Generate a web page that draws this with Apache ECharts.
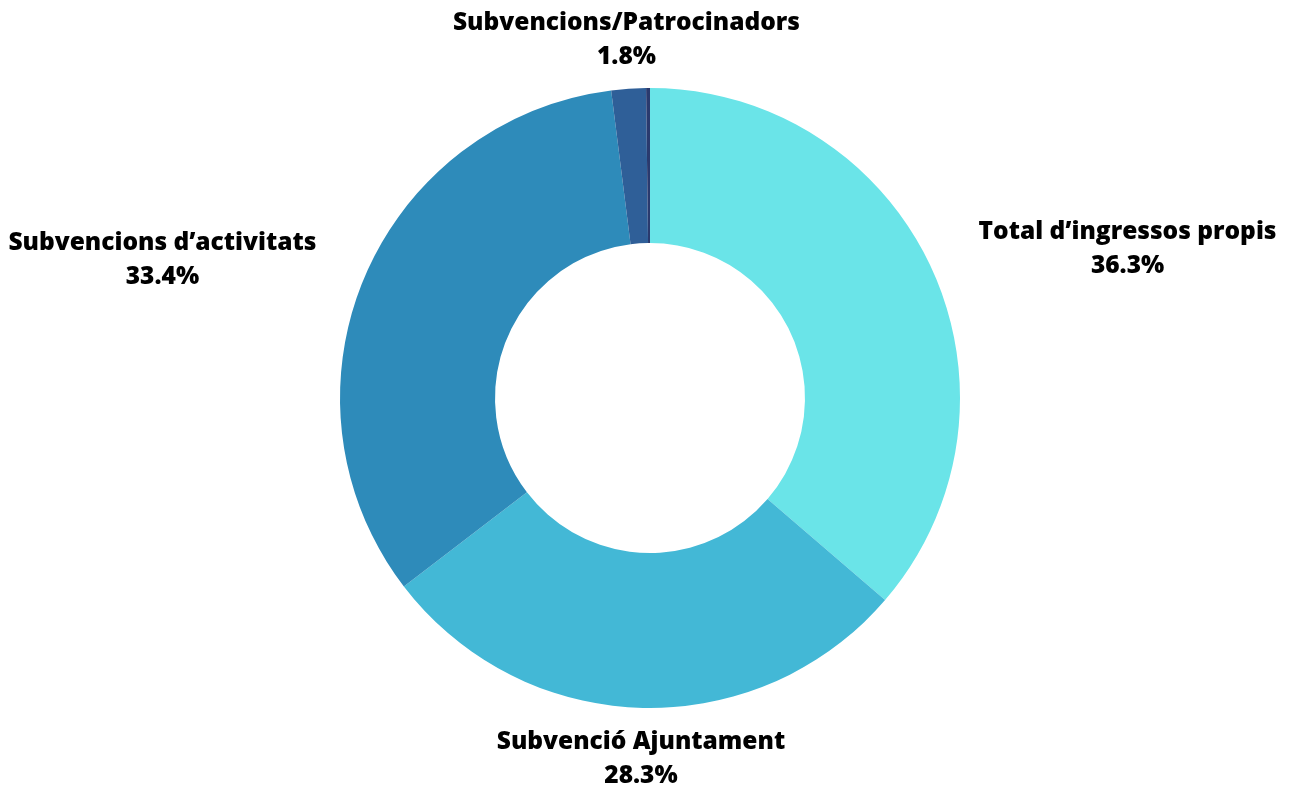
<!DOCTYPE html>
<html>
<head>
<meta charset="utf-8">
<script src="https://cdn.jsdelivr.net/npm/echarts@6/dist/echarts.min.js"></script>
<style>
html,body{margin:0;padding:0;background:#fff;}
#chart{width:1291px;height:792px;}
</style>
</head>
<body>
<div id="chart"></div>
<script>
const categories = ['Total d’ingressos propis', 'Subvenció Ajuntament', 'Subvencions d’activitats', 'Subvencions/Patrocinadors', 'Altres'];
const values = [36.3, 28.3, 33.4, 1.8, 0.2];
const colors = ['#6AE4E8', '#43B8D6', '#2E8BBA', '#2F5F98', '#2A3A6E'];
const showLabel = [true, true, true, true, false];

const chart = echarts.init(document.getElementById('chart'));
chart.setOption({
  animation: false,
  series: [{
    type: 'pie',
    center: [650, 398],
    radius: [155, 310],
    startAngle: 90,
    clockwise: true,
    avoidLabelOverlap: false,
    itemStyle: { borderWidth: 0 },
    label: {
      show: true,
      position: 'outside',
      formatter: '{b}\n{c}%',
      fontFamily: 'Open Sans',
      fontWeight: 800,
      fontSize: 24.5,
      lineHeight: 34,
      color: '#000',
      distanceToLabelLine: 3
    },
    labelLine: { show: false, length: 45, length2: 3 },
    labelLayout: function (p) {
      const pts = p.labelLinePoints;
      const r = p.labelRect;
      if (!pts) return {};
      const end = pts[2];
      const mid = pts[1];
      const dx = mid[0] - 650;
      const dy = mid[1] - 398;
      const len = Math.sqrt(dx * dx + dy * dy);
      let x, y = r.y + r.height / 2;
      if (Math.abs(dx / len) < 0.3) {
        x = end[0] + 4;
        y += dy > 0 ? 6 : -4;
      } else {
        x = r.x + r.width / 2;
        y -= 1;
      }
      return { x: x, y: y, align: 'center', verticalAlign: 'middle' };
    },
    emphasis: { disabled: true },
    data: categories.map((c, i) => ({
      name: c,
      value: values[i],
      itemStyle: { color: colors[i] },
      label: { show: showLabel[i] }
    }))
  }]
});
</script>
</body>
</html>
